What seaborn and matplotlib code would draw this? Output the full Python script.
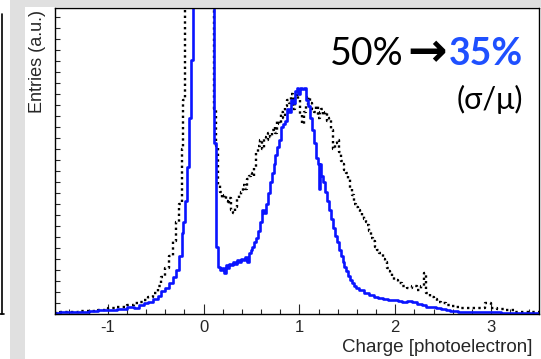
import matplotlib
matplotlib.use('Agg')
import matplotlib.pyplot as plt
import seaborn as sns
import pandas as pd
from matplotlib.ticker import MultipleLocator, NullFormatter
from matplotlib.patches import Rectangle
from matplotlib.lines import Line2D

# charge (photoelectron) and entries (a.u.)
blue_x = [-1.55, -1.45, -1.35, -1.25, -1.15, -1.05, -0.95, -0.85, -0.75, -0.70,
          -0.65, -0.60, -0.55, -0.50, -0.46, -0.42, -0.38, -0.34, -0.30, -0.27,
          -0.24, -0.22, -0.20, -0.18, -0.16, -0.14, -0.12, -0.10, 0.0, 0.10,
          0.12, 0.14, 0.16, 0.18, 0.20, 0.22, 0.24, 0.26, 0.28, 0.30,
          0.32, 0.34, 0.36, 0.38, 0.40, 0.42, 0.44, 0.46, 0.48, 0.50,
          0.52, 0.54, 0.56, 0.58, 0.60, 0.62, 0.64, 0.66, 0.68, 0.70,
          0.72, 0.74, 0.76, 0.78, 0.80, 0.82, 0.84, 0.86, 0.88, 0.90,
          0.92, 0.94, 0.96, 0.98, 1.00, 1.02, 1.04, 1.06, 1.08, 1.10,
          1.12, 1.14, 1.16, 1.18, 1.20, 1.21, 1.22, 1.24, 1.26, 1.28,
          1.30, 1.32, 1.34, 1.36, 1.38, 1.40, 1.42, 1.44, 1.46, 1.48,
          1.50, 1.52, 1.54, 1.56, 1.58, 1.60, 1.65, 1.70, 1.75, 1.80,
          1.85, 1.90, 1.95, 2.00, 2.05, 2.10, 2.15, 2.20, 2.25, 2.30,
          2.35, 2.40, 2.45, 2.50, 2.55, 2.60, 2.70, 2.80, 2.90, 3.00,
          3.20, 3.50]
blue_y = [0.004, 0.005, 0.006, 0.008, 0.010, 0.012, 0.014, 0.017, 0.022, 0.020,
          0.030, 0.035, 0.040, 0.050, 0.058, 0.075, 0.085, 0.100, 0.120, 0.145,
          0.190, 0.265, 0.300, 0.370, 0.480, 0.640, 0.830, 3.0, 3.0, 3.0,
          0.560, 0.220, 0.155, 0.145, 0.150, 0.135, 0.160, 0.150, 0.165, 0.160,
          0.170, 0.165, 0.175, 0.170, 0.180, 0.175, 0.185, 0.170, 0.200, 0.210,
          0.220, 0.235, 0.250, 0.270, 0.300, 0.340, 0.330, 0.360, 0.395, 0.430,
          0.460, 0.490, 0.520, 0.545, 0.570, 0.610, 0.620, 0.630, 0.670, 0.660,
          0.700, 0.690, 0.730, 0.740, 0.720, 0.740, 0.735, 0.740, 0.700, 0.680,
          0.640, 0.600, 0.560, 0.510, 0.490, 0.410, 0.490, 0.450, 0.430, 0.400,
          0.370, 0.340, 0.310, 0.280, 0.255, 0.235, 0.210, 0.190, 0.170, 0.155,
          0.140, 0.125, 0.110, 0.100, 0.090, 0.085, 0.078, 0.070, 0.062, 0.055,
          0.052, 0.050, 0.046, 0.045, 0.042, 0.040, 0.042, 0.038, 0.033, 0.028,
          0.024, 0.022, 0.018, 0.015, 0.012, 0.010, 0.008, 0.007, 0.006, 0.005,
          0.004, 0.004]

black_x = [-1.55, -1.45, -1.35, -1.25, -1.15, -1.05, -0.95, -0.85, -0.75, -0.70,
           -0.65, -0.60, -0.55, -0.50, -0.46, -0.42, -0.38, -0.34, -0.30, -0.27,
           -0.24, -0.22, -0.20, -0.18, 0.0, 0.10,
           0.12, 0.14, 0.16, 0.18, 0.20, 0.22, 0.24, 0.26, 0.28, 0.30,
           0.32, 0.34, 0.36, 0.38, 0.40, 0.42, 0.44, 0.46, 0.48, 0.50,
           0.52, 0.54, 0.56, 0.58, 0.60, 0.62, 0.64, 0.66, 0.68, 0.70,
           0.72, 0.74, 0.76, 0.78, 0.80, 0.82, 0.84, 0.86, 0.88, 0.90,
           0.92, 0.94, 0.96, 0.98, 1.00, 1.02, 1.04, 1.06, 1.08, 1.10,
           1.12, 1.14, 1.16, 1.18, 1.20, 1.22, 1.24, 1.26, 1.28, 1.30,
           1.32, 1.34, 1.36, 1.38, 1.40, 1.42, 1.44, 1.46, 1.48, 1.50,
           1.52, 1.54, 1.56, 1.58, 1.60, 1.62, 1.64, 1.66, 1.68, 1.70,
           1.72, 1.74, 1.76, 1.78, 1.80, 1.82, 1.84, 1.86, 1.88, 1.90,
           1.92, 1.94, 1.96, 1.98, 2.00, 2.05, 2.10, 2.15, 2.20, 2.25,
           2.28, 2.31, 2.34, 2.38, 2.42, 2.46, 2.50, 2.55, 2.60, 2.65,
           2.72, 2.80, 2.90, 2.97, 3.02, 3.10, 3.20, 3.30, 3.40, 3.50]
black_y = [0.004, 0.005, 0.007, 0.009, 0.011, 0.014, 0.018, 0.022, 0.030, 0.035,
           0.038, 0.045, 0.055, 0.070, 0.090, 0.120, 0.150, 0.190, 0.240, 0.300,
           0.360, 0.540, 0.700, 3.0, 3.0, 3.0,
           0.67, 0.55, 0.42, 0.40, 0.38, 0.39, 0.37, 0.36, 0.38, 0.34,
           0.33, 0.35, 0.38, 0.39, 0.40, 0.42, 0.41, 0.44, 0.45, 0.46,
           0.45, 0.48, 0.53, 0.55, 0.57, 0.54, 0.58, 0.57, 0.59, 0.58,
           0.60, 0.61, 0.59, 0.63, 0.62, 0.66, 0.64, 0.68, 0.70, 0.69,
           0.72, 0.67, 0.71, 0.73, 0.70, 0.65, 0.62, 0.66, 0.68, 0.71,
           0.69, 0.67, 0.66, 0.68, 0.64, 0.66, 0.67, 0.65, 0.66, 0.63,
           0.64, 0.60, 0.54, 0.56, 0.57, 0.53, 0.50, 0.49, 0.47, 0.46,
           0.44, 0.41, 0.39, 0.36, 0.35, 0.34, 0.33, 0.32, 0.31, 0.30,
           0.29, 0.27, 0.25, 0.24, 0.22, 0.21, 0.20, 0.20, 0.18, 0.17,
           0.15, 0.14, 0.135, 0.12, 0.11, 0.10, 0.09, 0.085, 0.09, 0.08,
           0.09, 0.135, 0.07, 0.056, 0.05, 0.04, 0.035, 0.03, 0.025, 0.022,
           0.02, 0.018, 0.02, 0.035, 0.02, 0.015, 0.012, 0.008, 0.007, 0.006]

xticks = [-1, 0, 1, 2, 3]

blue_df = pd.DataFrame({'charge': blue_x, 'entries': blue_y})
black_df = pd.DataFrame({'charge': black_x, 'entries': black_y})

sns.set_style('ticks')
plt.rcParams['font.family'] = ['Liberation Sans', 'DejaVu Sans']

W, H = 541, 359
fig = plt.figure(figsize=(W / 100, H / 100), dpi=100)
fig.patch.set_facecolor('white')

# slide background pieces
fig.patches.append(Rectangle((10 / W, 0), 15 / W, 1, transform=fig.transFigure,
                             facecolor='#e0e0e0', edgecolor='none', zorder=0))
fig.patches.append(Rectangle((25 / W, 1 - 7 / H), 1, 7 / H, transform=fig.transFigure,
                             facecolor='#e0e0e0', edgecolor='none', zorder=0))
fig.lines.append(Line2D([2 / W, 2 / W], [1 - 14 / H, 1 - 314 / H], transform=fig.transFigure,
                        color='black', lw=1.2))
fig.lines.append(Line2D([0, 4 / W], [1 - 314 / H, 1 - 314 / H], transform=fig.transFigure,
                        color='black', lw=1.2))

ax = fig.add_axes([55 / W, 1 - 314 / H, 484 / W, 306 / H])
ax.set_facecolor('white')

sns.lineplot(data=black_df, x='charge', y='entries', ax=ax, estimator=None, sort=False,
             drawstyle='steps-mid', color='black', lw=1.7, linestyle=(0, (1, 1.4)))
sns.lineplot(data=blue_df, x='charge', y='entries', ax=ax, estimator=None, sort=False,
             drawstyle='steps-mid', color='#0a14ff', lw=1.9)

ax.set_xlim(-1.55, 3.5)
ax.set_ylim(0, 1.0)
ax.set_xticks(xticks)
ax.set_xticklabels([str(t) for t in xticks], fontsize=12)
ax.xaxis.set_minor_locator(MultipleLocator(0.2))
ax.yaxis.set_major_locator(MultipleLocator(0.036))
ax.yaxis.set_major_formatter(NullFormatter())
ax.tick_params(axis='x', which='major', direction='in', length=7, width=0.8,
               top=False, pad=4)
ax.tick_params(axis='x', which='minor', direction='in', length=3.5, width=0.8, top=False)
ax.tick_params(axis='y', which='major', direction='in', length=3.5, width=0.8, right=False)
for s in ax.spines.values():
    s.set_linewidth(1.0)
    s.set_color('black')

ax.set_xlabel('')
ax.set_ylabel('')
fig.text(532 / W, 1 - 347 / H, 'Charge [photoelectron]', ha='right', va='center', fontsize=13.5)
fig.text(37.5 / W, 1 - 10 / H, 'Entries (a.u.)', ha='center', va='top', rotation=90, fontsize=13)

fig.text(404 / W, 1 - 65 / H, '50%', ha='right', va='baseline', fontsize=27,
         family=['Lato', 'DejaVu Sans'], color='black')
fig.text(427 / W, 1 - 66 / H, '\u2192', ha='center', va='baseline', fontsize=34,
         family=['DejaVu Sans'], fontweight='bold', color='black')
fig.text(523 / W, 1 - 65 / H, '35%', ha='right', va='baseline', fontsize=27,
         family=['Lato', 'DejaVu Sans'], fontweight='bold', color='#1f50ff')
fig.text(523 / W, 1 - 99 / H, '(\u03c3/\u03bc)', ha='right', va='center', fontsize=22,
         family=['Lato', 'DejaVu Sans'], color='black')

fig.savefig('out.png', dpi=100)
